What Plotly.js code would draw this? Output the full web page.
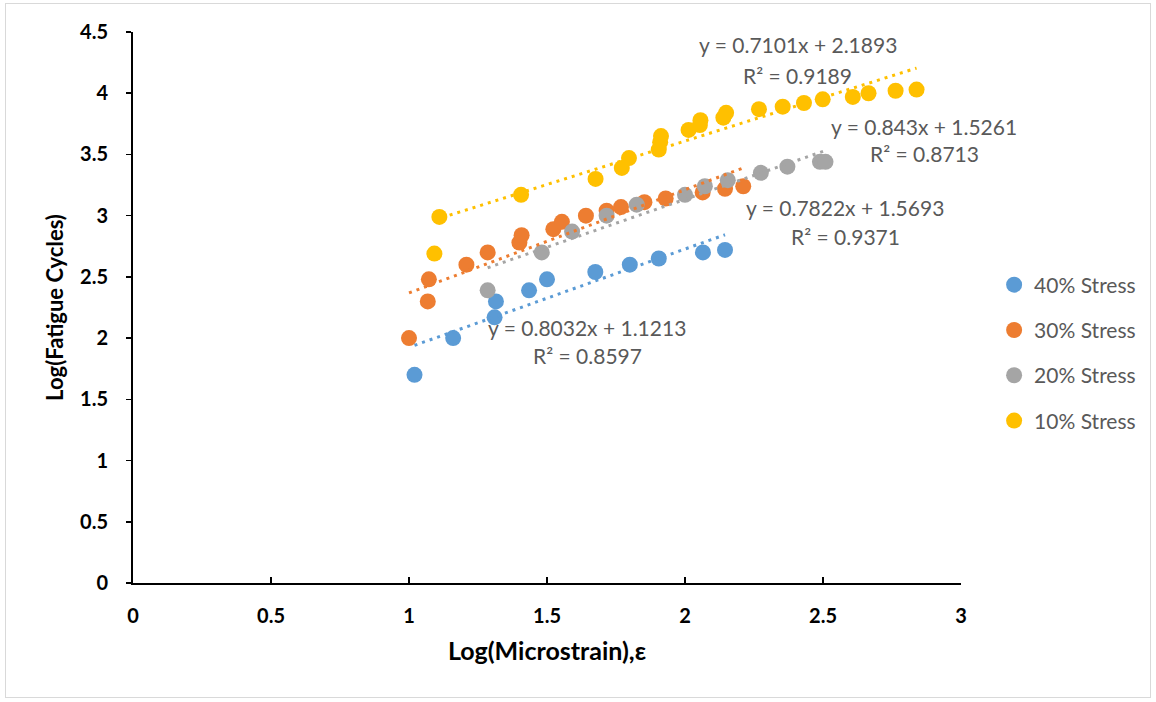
<!DOCTYPE html>
<html>
<head>
<meta charset="utf-8">
<script src="https://cdn.plot.ly/plotly-3.0.1.min.js"></script>
<style>
  html, body { margin: 0; padding: 0; background: #fff; }
  #chart { position: absolute; left: 0; top: 0; width: 1156px; height: 702px; }
  #frame { position: absolute; left: 5px; top: 3px; width: 1144px; height: 693px; border: 1px solid #d9d9d9; pointer-events: none; }
</style>
</head>
<body>
<div id="chart"></div>
<div id="frame"></div>
<script>
// ---- Data ----
const seriesNames = ["40% Stress", "30% Stress", "20% Stress", "10% Stress"];
const seriesColors = ["#5B9BD5", "#ED7D31", "#A5A5A5", "#FFC000"];

const x40 = [1.02, 1.16, 1.31, 1.315, 1.435, 1.50, 1.675, 1.80, 1.905, 2.065, 2.145];
const y40 = [1.70, 2.00, 2.17, 2.30, 2.39, 2.48, 2.54, 2.60, 2.65, 2.70, 2.72];

const x30 = [1.00, 1.068, 1.072, 1.208, 1.285, 1.40, 1.408, 1.523, 1.554, 1.641, 1.716, 1.768, 1.853, 1.93, 2.064, 2.145, 2.211];
const y30 = [2.00, 2.30, 2.48, 2.60, 2.70, 2.78, 2.84, 2.89, 2.95, 3.00, 3.04, 3.07, 3.11, 3.14, 3.19, 3.22, 3.24];

const x20 = [1.285, 1.481, 1.591, 1.716, 1.825, 2.00, 2.072, 2.155, 2.275, 2.371, 2.489, 2.509];
const y20 = [2.39, 2.70, 2.87, 3.00, 3.09, 3.17, 3.24, 3.29, 3.35, 3.40, 3.44, 3.44];

const x10 = [1.092, 1.11, 1.406, 1.676, 1.771, 1.797, 1.905, 1.91, 1.913, 2.013, 2.054, 2.056, 2.139, 2.149, 2.268, 2.354, 2.431, 2.499, 2.608, 2.665, 2.763, 2.839];
const y10 = [2.69, 2.99, 3.17, 3.30, 3.39, 3.47, 3.54, 3.60, 3.65, 3.70, 3.74, 3.78, 3.80, 3.84, 3.87, 3.89, 3.92, 3.95, 3.97, 4.00, 4.02, 4.03];

// Linear trendline coefficients (as labelled on the chart)
const trendSlope     = [0.8032, 0.843, 0.7822, 0.7101];
const trendIntercept = [1.1213, 1.5261, 1.5693, 2.1893];
const trendEqText = ["y = 0.8032x + 1.1213", "y = 0.843x + 1.5261", "y = 0.7822x + 1.5693", "y = 0.7101x + 2.1893"];
const trendR2Text = ["R² = 0.8597", "R² = 0.8713", "R² = 0.9371", "R² = 0.9189"];
// label anchor positions in data coordinates
const labelX   = [1.645, 2.866, 2.580, 2.409];
const labelEqY = [2.083, 3.725, 3.064, 4.395];
const labelR2Y = [1.855, 3.505, 2.827, 4.142];

const xTickVals = [0, 0.5, 1, 1.5, 2, 2.5, 3];
const yTickVals = [0, 0.5, 1, 1.5, 2, 2.5, 3, 3.5, 4, 4.5];

const xs = [x40, x30, x20, x10];
const ys = [y40, y30, y20, y10];

const FONT = "Lato, 'Open Sans', sans-serif";

const traces = [];
for (let i = 0; i < 4; i++) {
  traces.push({
    type: "scatter", mode: "markers",
    x: xs[i], y: ys[i], name: seriesNames[i],
    legendgroup: "g" + i,
    marker: { color: seriesColors[i], size: 16, line: { width: 0 } },
    hoverinfo: "x+y"
  });
}
for (let i = 0; i < 4; i++) {
  const xmin = Math.min(...xs[i]), xmax = Math.max(...xs[i]);
  traces.push({
    type: "scatter", mode: "lines",
    x: [xmin, xmax],
    y: [trendSlope[i] * xmin + trendIntercept[i], trendSlope[i] * xmax + trendIntercept[i]],
    line: { color: seriesColors[i], width: 3, dash: "3px,5px" },
    showlegend: false, hoverinfo: "skip"
  });
}

const annotations = [];
for (let i = 0; i < 4; i++) {
  annotations.push({
    x: labelX[i], y: labelEqY[i], xref: "x", yref: "y",
    text: trendEqText[i], showarrow: false,
    xanchor: "center", yanchor: "middle",
    font: { family: FONT, size: 21, color: "#595959" }
  });
  annotations.push({
    x: labelX[i], y: labelR2Y[i], xref: "x", yref: "y",
    text: trendR2Text[i], showarrow: false,
    xanchor: "center", yanchor: "middle",
    font: { family: FONT, size: 21, color: "#595959" }
  });
}

const layout = {
  width: 1156, height: 702,
  margin: { l: 133, r: 195, t: 32, b: 119, pad: 0 },
  paper_bgcolor: "#ffffff", plot_bgcolor: "#ffffff",
  showlegend: true,
  legend: {
    x: 1.040, y: 0.578, xanchor: "left", yanchor: "top",
    font: { family: FONT, size: 21, color: "#595959" },
    tracegroupgap: 15, itemwidth: 30,
    bgcolor: "rgba(0,0,0,0)"
  },
  xaxis: {
    range: [0, 3], tickvals: xTickVals, ticktext: xTickVals.map(String),
    showgrid: false, zeroline: false,
    showline: true, linecolor: "#000", linewidth: 2,
    ticks: "inside", ticklen: 6, tickwidth: 1.5, tickcolor: "#000",
    ticklabelstandoff: 14,
    tickfont: { family: FONT, size: 20, color: "#000", weight: "bold" },
    title: { text: "Log(Microstrain),ε", standoff: 16,
             font: { family: FONT, size: 25, color: "#000", weight: "bold" } }
  },
  yaxis: {
    range: [0, 4.5], tickvals: yTickVals, ticktext: yTickVals.map(String),
    showgrid: false, zeroline: false,
    showline: true, linecolor: "#000", linewidth: 2,
    ticks: "outside", ticklen: 5, tickwidth: 1.5, tickcolor: "#000",
    ticklabelstandoff: 14,
    tickfont: { family: FONT, size: 20, color: "#000", weight: "bold" },
    title: { text: "Log(Fatigue Cycles)", standoff: 10,
             font: { family: FONT, size: 22, color: "#000", weight: "bold" } }
  },
  annotations: annotations
};

Plotly.newPlot("chart", traces, layout, { displayModeBar: false, staticPlot: true });
</script>
</body>
</html>
